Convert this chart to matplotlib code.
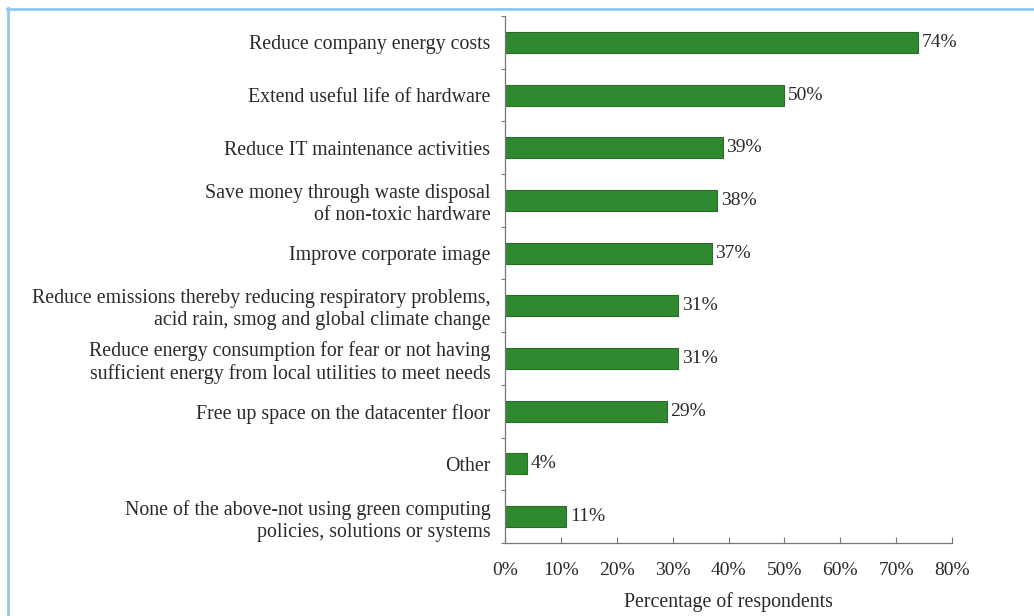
import numpy as np
import matplotlib.pyplot as plt
from matplotlib.lines import Line2D
from matplotlib.ticker import FixedLocator, PercentFormatter

# survey answers, top to bottom
reasons = [
    "Reduce company energy costs",
    "Extend useful life of hardware",
    "Reduce IT maintenance activities",
    "Save money through waste disposal\nof non-toxic hardware",
    "Improve corporate image",
    "Reduce emissions thereby reducing respiratory problems,\nacid rain, smog and global climate change",
    "Reduce energy consumption for fear or not having\nsufficient energy from local utilities to meet needs",
    "Free up space on the datacenter floor",
    "Other",
    "None of the above-not using green computing\npolicies, solutions or systems",
]
percent = [74, 50, 39, 38, 37, 31, 31, 29, 4, 11]
x_ticks = [0, 10, 20, 30, 40, 50, 60, 70, 80]

plt.rcParams['font.family'] = ['Liberation Serif', 'DejaVu Serif']
text_col = '#2a2a2a'
axis_col = '#777777'

fig = plt.figure(figsize=(10.34, 6.16), dpi=100)
ax = fig.add_axes([505 / 1034, 73 / 616, 447 / 1034, 527 / 616])

pos = np.arange(len(reasons))
ax.barh(pos, percent, height=0.4, color='#2f8a2f', edgecolor='#2a6b2a',
        linewidth=0.8)
for y, v in zip(pos, percent):
    ax.text(v + 0.6, y, f"{v}%", va='center', ha='left', fontsize=14,
            color=text_col)

ax.set_xlim(0, 80)
ax.set_ylim(len(reasons) - 0.5, -0.5)

ax.set_yticks(pos)
ax.set_yticklabels(reasons, fontsize=14.3, color=text_col, linespacing=1.22)
ax.tick_params(axis='y', which='major', length=0, pad=10.5)
ax.yaxis.set_minor_locator(FixedLocator(np.arange(-0.5, len(reasons), 1.0)))
ax.tick_params(axis='y', which='minor', length=3, color=axis_col, width=0.8)

ax.set_xticks(x_ticks)
ax.xaxis.set_major_formatter(PercentFormatter(decimals=0))
ax.tick_params(axis='x', direction='in', length=4, color=axis_col,
               labelsize=14, labelcolor=text_col, pad=14)
ax.set_xlabel("Percentage of respondents", fontsize=14.3, color=text_col,
              labelpad=9)

for side in ('top', 'right'):
    ax.spines[side].set_visible(False)
for side in ('left', 'bottom'):
    ax.spines[side].set_color(axis_col)
    ax.spines[side].set_linewidth(0.9)

# light blue frame along the top and left edges
frame = '#90c8ec'
fig.add_artist(Line2D([7 / 1034, 1], [1 - 8.5 / 616, 1 - 8.5 / 616],
                      transform=fig.transFigure, color=frame, lw=2))
fig.add_artist(Line2D([7.5 / 1034, 7.5 / 1034], [0, 1 - 8 / 616],
                      transform=fig.transFigure, color=frame, lw=2))

fig.savefig('out.png', dpi=100)
